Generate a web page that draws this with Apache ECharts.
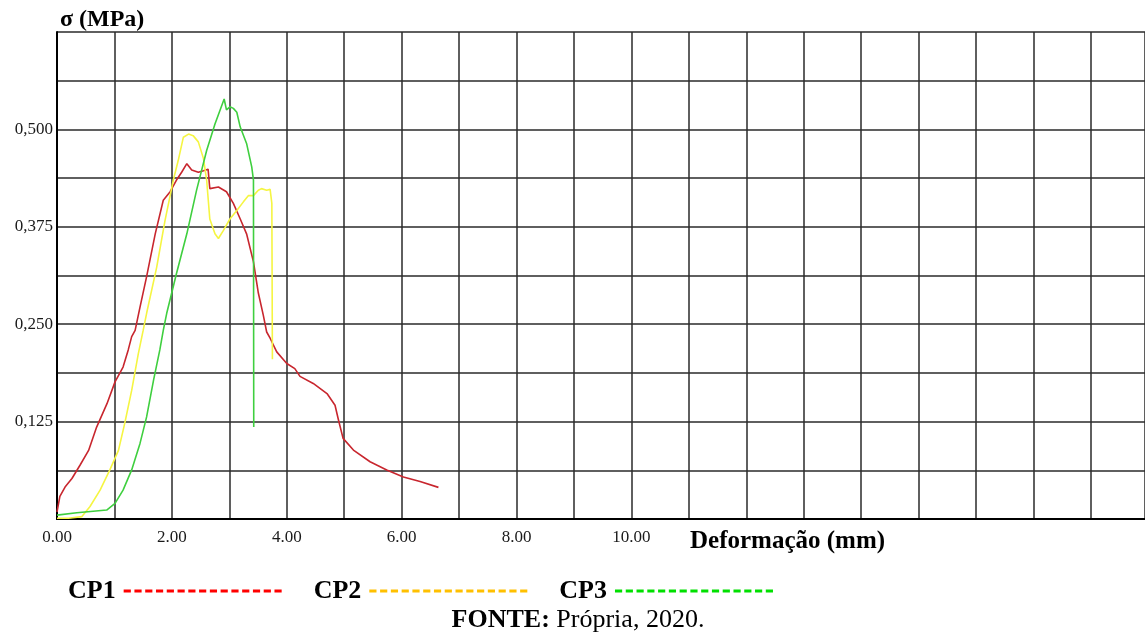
<!DOCTYPE html>
<html>
<head>
<meta charset="utf-8">
<script src="https://cdn.jsdelivr.net/npm/echarts@6/dist/echarts.min.js"></script>
<style>
  html, body { margin: 0; padding: 0; background: #ffffff; }
  #chart { width: 1145px; height: 632px; }
</style>
</head>
<body>
<div id="chart"></div>
<script>
// Stress (MPa) versus deformation (mm) for three specimens
const seriesNames = ['CP1', 'CP2', 'CP3'];

const cp1X = [0, 0.05, 0.14, 0.26, 0.40, 0.55, 0.69, 0.87, 1.01, 1.15, 1.24, 1.30, 1.36, 1.445, 1.56, 1.71, 1.85, 1.97, 2.08, 2.17, 2.26, 2.29, 2.345, 2.37, 2.46, 2.55, 2.63, 2.66, 2.81, 2.95, 3.07, 3.19, 3.30, 3.42, 3.505, 3.59, 3.65, 3.71, 3.825, 4.0, 4.14, 4.23, 4.46, 4.70, 4.84, 4.90, 4.98, 5.16, 5.45, 5.74, 6.03, 6.32, 6.64];
const cp1Y = [0.009, 0.029, 0.041, 0.052, 0.069, 0.088, 0.118, 0.148, 0.176, 0.195, 0.217, 0.234, 0.242, 0.272, 0.311, 0.366, 0.409, 0.420, 0.435, 0.445, 0.456, 0.458, 0.448, 0.450, 0.445, 0.447, 0.449, 0.424, 0.426, 0.420, 0.405, 0.385, 0.366, 0.330, 0.290, 0.262, 0.240, 0.232, 0.2145, 0.1996, 0.193, 0.183, 0.174, 0.161, 0.146, 0.127, 0.1035, 0.0885, 0.0735, 0.063, 0.054, 0.048, 0.0406];

const cp2X = [0, 0.20, 0.43, 0.575, 0.75, 0.92, 1.07, 1.18, 1.30, 1.415, 1.50, 1.56, 1.735, 1.88, 2.025, 2.11, 2.20, 2.29, 2.37, 2.46, 2.55, 2.605, 2.66, 2.75, 2.81, 2.895, 3.01, 3.13, 3.245, 3.33, 3.42, 3.505, 3.56, 3.65, 3.71, 3.74, 3.75];
const cp2Y = [0.001, 0.001, 0.003, 0.016, 0.037, 0.063, 0.088, 0.123, 0.165, 0.212, 0.242, 0.264, 0.323, 0.383, 0.435, 0.460, 0.490, 0.494, 0.492, 0.484, 0.4625, 0.435, 0.385, 0.366, 0.360, 0.370, 0.385, 0.396, 0.407, 0.415, 0.415, 0.422, 0.424, 0.422, 0.423, 0.405, 0.205];

const cp3X = [0, 0.345, 0.865, 1.01, 1.15, 1.30, 1.445, 1.56, 1.68, 1.79, 1.85, 1.91, 2.08, 2.26, 2.43, 2.605, 2.75, 2.87, 2.91, 2.95, 3.01, 3.07, 3.13, 3.19, 3.30, 3.39, 3.42, 3.425];
const cp3Y = [0.005, 0.008, 0.0115, 0.020, 0.037, 0.063, 0.097, 0.131, 0.178, 0.217, 0.242, 0.264, 0.315, 0.366, 0.422, 0.473, 0.507, 0.531, 0.539, 0.525, 0.529, 0.527, 0.522, 0.503, 0.482, 0.452, 0.435, 0.118];

const lineColors = ['#c8262e', '#f5f542', '#3fcf3f'];
const legendColors = ['#ff0000', '#ffc000', '#00e000'];

const zip = (xs, ys) => xs.map((x, i) => [x, ys[i]]);
const curves = [zip(cp1X, cp1Y), zip(cp2X, cp2Y), zip(cp3X, cp3Y)];

// Dashed-line legend key built as a row of small filled rectangles
function dashIcon(count, dash, gap, h) {
  let p = '';
  for (let i = 0; i < count; i++) {
    const x0 = i * (dash + gap);
    p += `M${x0},0h${dash}v${h}h-${dash}z`;
  }
  return 'path://' + p;
}
const legendIcon = dashIcon(15, 7, 3.5, 3);

const serif = '"Liberation Serif", "DejaVu Serif", serif';
const chart = echarts.init(document.getElementById('chart'), null, { renderer: 'canvas' });

chart.setOption({
  backgroundColor: '#ffffff',
  animation: false,
  grid: { left: 57, right: 0, top: 32, bottom: 113, containLabel: false },
  xAxis: [{
    type: 'value',
    min: 0, max: 18.94, interval: 1,
    axisLine: { show: true, onZero: false, lineStyle: { color: '#000', width: 2 } },
    axisTick: { show: false },
    splitLine: { show: true, lineStyle: { color: '#2a2a2a', width: 1.5 } },
    axisLabel: {
      margin: 10,
      fontFamily: serif, fontSize: 17, color: '#1a1a1a',
      showMaxLabel: false,
      formatter: v => {
        const k = Math.round(v);
        return (Math.abs(v - k) < 1e-6 && k % 2 === 0 && k <= 10) ? k.toFixed(2) : '';
      }
    }
  }, {
    type: 'value', position: 'top',
    min: 0, max: 18.94,
    axisLine: { show: true, lineStyle: { color: '#000', width: 2 } },
    axisTick: { show: false }, axisLabel: { show: false }, splitLine: { show: false }
  }],
  yAxis: {
    type: 'value',
    min: 0, max: 0.625, interval: 0.0625,
    name: 'σ (MPa)',
    nameLocation: 'end',
    nameGap: 12,
    nameTextStyle: { fontFamily: serif, fontSize: 24, fontWeight: 'bold', color: '#000', align: 'left', verticalAlign: 'middle', padding: [0, 0, 0, 3] },
    axisLine: { show: true, lineStyle: { color: '#000', width: 2 } },
    axisTick: { show: false },
    splitLine: { show: true, lineStyle: { color: '#2a2a2a', width: 1.5 } },
    axisLabel: {
      margin: 4,
      fontFamily: serif, fontSize: 17, color: '#1a1a1a',
      formatter: v => {
        const k = Math.round(v / 0.0625);
        return (k > 0 && k < 10 && k % 2 === 0) ? v.toFixed(3).replace('.', ',') : '';
      }
    }
  },
  legend: {
    left: 63, top: 573,
    align: 'right',
    itemWidth: 158, itemHeight: 3, itemGap: 32,
    symbolKeepAspect: false,
    selectedMode: false,
    textStyle: { fontFamily: serif, fontSize: 26, fontWeight: 'bold', color: '#000', padding: [0, 3, 0, 0] },
    data: seriesNames.map((n, i) => ({
      name: n,
      icon: legendIcon,
      itemStyle: { color: legendColors[i], borderWidth: 0 }
    }))
  },
  graphic: [{
    type: 'text',
    left: 690, top: 529,
    style: { text: 'Deformação (mm)', fontFamily: serif, fontSize: 25, fontWeight: 'bold', fill: '#000' }
  }, {
    type: 'text',
    x: 578, y: 620,
    style: {
      text: '{b|FONTE:} Própria, 2020.',
      align: 'center', verticalAlign: 'middle',
      fontFamily: serif, fontSize: 26, fill: '#000',
      rich: { b: { fontFamily: serif, fontSize: 26, fontWeight: 'bold', fill: '#000' } }
    }
  }],
  series: curves.map((d, i) => ({
    name: seriesNames[i],
    type: 'line',
    data: d,
    symbol: 'none',
    smooth: false,
    lineStyle: { color: lineColors[i], width: 1.6 },
    itemStyle: { color: lineColors[i] },
    z: 3
  }))
});
</script>
</body>
</html>
